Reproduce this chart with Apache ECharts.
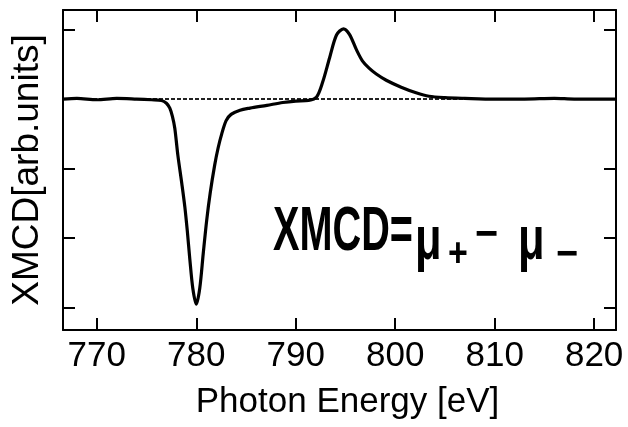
<!DOCTYPE html>
<html><head><meta charset="utf-8">
<script src="https://cdn.jsdelivr.net/npm/echarts@6/dist/echarts.min.js"></script>
<style>html,body{margin:0;padding:0;background:#fff}#c{width:628px;height:427px}</style>
</head><body><div id="c"></div>
<script>
// Data
const energy = [766.6,768,770,772,774,775.5,776.5,777.0,777.34,777.6,777.84,778.15,778.55,778.85,779.1,779.35,779.65,780.0,780.35,780.7,781.05,781.4,781.85,782.2,782.56,783.0,783.5,784.4,785.4,787.1,788.7,790,791.3,792.1,792.7,793.4,794.1,794.8,795.4,796.1,796.7,797.4,798.1,799.1,800.6,802.1,803.4,805,807,810,813,816,818,822.2];
const xmcd = [0.0,0.01,-0.01,0.01,0.0,-0.01,-0.02,-0.06,-0.13,-0.25,-0.42,-0.81,-1.22,-1.55,-1.9,-2.3,-2.72,-2.95,-2.72,-2.22,-1.74,-1.35,-0.95,-0.70,-0.50,-0.31,-0.22,-0.16,-0.13,-0.09,-0.05,-0.03,-0.02,0.03,0.24,0.59,0.92,1.01,0.93,0.71,0.55,0.44,0.36,0.27,0.17,0.09,0.04,0.02,0.01,0.0,0.0,0.01,0.0,0.0];
const xTicks = [770,780,790,800,810,820];
const yTicks = [-3,-2,-1,0,1];
const xRange = [766.6, 822.2];
const yRange = [-3.32, 1.28];
const baseline = [[xRange[0],0],[xRange[1],0]];

const chart = echarts.init(document.getElementById('c'), null, {renderer:'canvas'});
const lbl = "'Liberation Sans',Arial,sans-serif";
const tickStyle = {show:true,inside:true,length:12,lineStyle:{color:'#000',width:2}};
const axisCommon = {
  axisLine:{show:true,onZero:false,lineStyle:{color:'#000',width:2}},
  splitLine:{show:false},
};
chart.setOption({
  animation:false,
  backgroundColor:'#fff',
  grid:{left:63,right:12,top:10,bottom:97,containLabel:false},
  xAxis:[
    Object.assign({type:'value',min:xRange[0],max:xRange[1],position:'bottom',
      name:'Photon Energy [eV]',nameLocation:'middle',nameGap:55,
      nameTextStyle:{fontFamily:lbl,fontSize:35,color:'#000',padding:[0,0,0,16]},
      axisTick:Object.assign({customValues:xTicks},tickStyle),
      axisLabel:{show:true,fontFamily:lbl,fontSize:35,color:'#000',margin:9,customValues:xTicks}
    },axisCommon),
    Object.assign({type:'value',min:xRange[0],max:xRange[1],position:'top',
      axisTick:Object.assign({customValues:xTicks},tickStyle),
      axisLabel:{show:false}
    },axisCommon)
  ],
  yAxis:[
    Object.assign({type:'value',min:yRange[0],max:yRange[1],position:'left',
      name:'XMCD[arb.units]',nameLocation:'middle',nameGap:17,
      nameTextStyle:{fontFamily:lbl,fontSize:37,color:'#000'},
      axisTick:Object.assign({customValues:yTicks},tickStyle),
      axisLabel:{show:false}
    },axisCommon),
    Object.assign({type:'value',min:yRange[0],max:yRange[1],position:'right',
      axisTick:Object.assign({customValues:yTicks},tickStyle),
      axisLabel:{show:false}
    },axisCommon)
  ],
  series:[
    {type:'line',data:baseline,symbol:'none',silent:true,z:1,
     lineStyle:{color:'#222',width:2,type:[4,2]}},
    {type:'line',data:energy.map((e,i)=>[e,xmcd[i]]),symbol:'none',smooth:0.3,z:3,
     lineStyle:{color:'#000',width:3.2}}
  ],
  graphic:[
    {type:'text',x:273,y:233,scaleX:0.63,style:{text:'XMCD=',font:"bold 63px 'Liberation Sans',Arial",fill:'#000',align:'left',verticalAlign:'middle'}},
    {type:'text',x:415,y:242,scaleX:0.7,style:{text:'μ',font:"bold 62px 'Liberation Sans',Arial",fill:'#000',align:'left',verticalAlign:'middle'}},
    {type:'text',x:448,y:255,scaleX:0.85,style:{text:'+',font:"bold 40px 'Liberation Sans',Arial",fill:'#000',align:'left',verticalAlign:'middle'}},
    {type:'text',x:475,y:236,scaleX:0.9,style:{text:'−',font:"bold 44px 'Liberation Sans',Arial",fill:'#000',align:'left',verticalAlign:'middle'}},
    {type:'text',x:518,y:242,scaleX:0.7,style:{text:'μ',font:"bold 62px 'Liberation Sans',Arial",fill:'#000',align:'left',verticalAlign:'middle'}},
    {type:'text',x:556,y:255,scaleX:0.9,style:{text:'−',font:"bold 42px 'Liberation Sans',Arial",fill:'#000',align:'left',verticalAlign:'middle'}}
  ]
});
</script></body></html>
